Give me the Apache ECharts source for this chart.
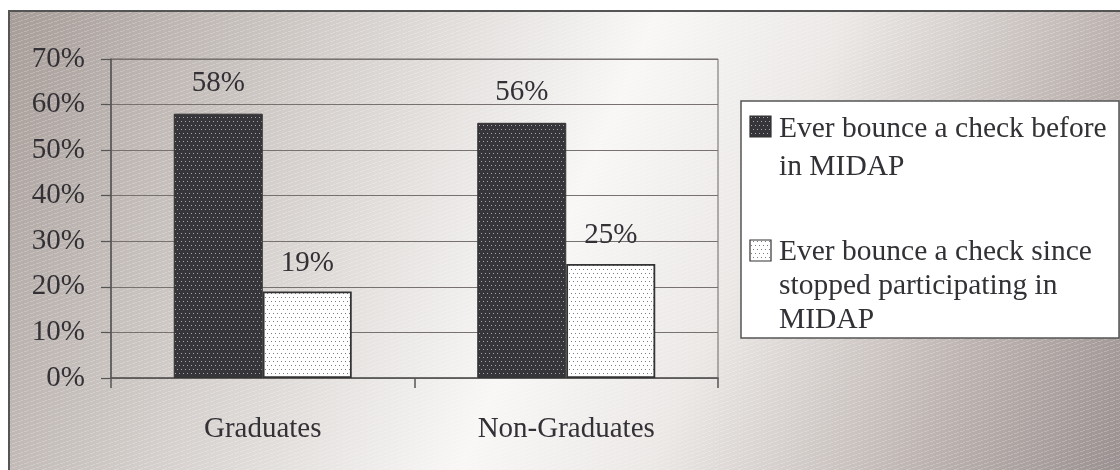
<!DOCTYPE html>
<html><head><meta charset="utf-8">
<script src="https://cdn.jsdelivr.net/npm/echarts@6/dist/echarts.min.js"></script>
<style>html,body{margin:0;padding:0;background:#fff;overflow:hidden}#c{width:1120px;height:470px}</style>
</head><body><div id="c"></div>
<script>
// ---- data ----
const categories = ['Graduates', 'Non-Graduates'];
const seriesNames = ['Ever bounce a check before in MIDAP', 'Ever bounce a check since stopped participating in MIDAP'];
const legendLines = [
  ['Ever bounce a check before', 'in MIDAP'],
  ['Ever bounce a check since', 'stopped participating in', 'MIDAP']
];
const beforeValues = [58, 56];
const sinceValues = [19, 25];
const yMin = 0, yMax = 70, yStep = 10;

// ---- patterns ----
function dotPattern(bg, dot) {
  const c = document.createElement('canvas'); c.width = 4; c.height = 8;
  const g = c.getContext('2d');
  g.fillStyle = bg; g.fillRect(0, 0, 4, 8);
  g.fillStyle = dot; g.fillRect(1, 1, 1, 1); g.fillRect(3, 5, 1, 1);
  return { image: c, repeat: 'repeat' };
}
function stripePattern() {
  const c = document.createElement('canvas'); c.width = 12; c.height = 4;
  const g = c.getContext('2d');
  g.fillStyle = 'rgba(255,255,255,0.22)';
  for (let x = 0; x < 12; x++) {
    if (x % 6 === 5) continue;
    const y = 3 - Math.floor(x / 3);
    g.fillRect(x, y, 1, 1);
  }
  return { image: c, repeat: 'repeat' };
}
const darkFill = dotPattern('#36353a', '#a9a7ac');
const lightFill = dotPattern('#ffffff', '#7d7b80');
const FONT = 'Liberation Serif';
const TXT = '#333136';
const FS = 29;

const chart = echarts.init(document.getElementById('c'), null, { renderer: 'canvas' });

const legendX = 741, legendY = 101, legendW = 378, legendH = 237;
const legendItemTops = [116, 240];
const legendLineHeights = [38, 34];
const legendTextShift = [3, 2];
const legendGraphics = [{
  type: 'rect', z: 100,
  shape: { x: legendX, y: legendY, width: legendW, height: legendH },
  style: { fill: '#ffffff', stroke: '#555', lineWidth: 1.5 }
}];
[darkFill, lightFill].forEach((fill, i) => {
  legendGraphics.push({
    type: 'rect', z: 101,
    shape: { x: 750, y: legendItemTops[i], width: 21, height: 21 },
    style: { fill: fill, stroke: '#333', lineWidth: 1.2 }
  });
  legendGraphics.push({
    type: 'text', z: 101,
    x: 779, y: legendItemTops[i] + 10 - legendLineHeights[i] / 2 + legendTextShift[i],
    style: {
      text: legendLines[i].join('\n'),
      font: '29.5px "' + FONT + '"', fill: TXT,
      lineHeight: legendLineHeights[i], verticalAlign: 'top', align: 'left'
    }
  });
});

const option = {
  animation: false,
  graphic: { elements: [
    {
      type: 'rect', z: -20, silent: true,
      shape: { x: 9, y: 11, width: 1140, height: 490 },
      style: {
        fill: { type: 'linear', x: 0, y: 0, x2: 1, y2: 1, colorStops: [
          { offset: 0, color: '#a69c98' },
          { offset: 0.25, color: '#d4cfcc' },
          { offset: 0.48, color: '#f8f7f6' },
          { offset: 0.62, color: '#ebe8e6' },
          { offset: 0.82, color: '#bdb4b1' },
          { offset: 1, color: '#93898a' }
        ] },
        stroke: '#555', lineWidth: 2
      }
    },
    {
      type: 'rect', z: -19, silent: true,
      shape: { x: 10, y: 12, width: 1140, height: 490 },
      style: { fill: stripePattern() }
    }
  ].concat(legendGraphics) },
  grid: {
    left: 111, top: 59, right: 402, bottom: 92,
    show: true, borderColor: '#6b6767', borderWidth: 1, backgroundColor: 'transparent'
  },
  xAxis: {
    type: 'category', data: categories,
    axisLine: { show: true, lineStyle: { color: '#555', width: 1.5 } },
    axisTick: { show: true, length: 10, alignWithLabel: false, lineStyle: { color: '#555', width: 1.5 } },
    axisLabel: { fontFamily: FONT, fontSize: FS, color: TXT, margin: 37 },
    splitLine: { show: false }
  },
  yAxis: {
    type: 'value', min: yMin, max: yMax, interval: yStep,
    axisLine: { show: true, lineStyle: { color: '#555', width: 1.5 } },
    axisTick: { show: true, length: 10, lineStyle: { color: '#555', width: 1.2 } },
    axisLabel: { fontFamily: FONT, fontSize: FS, color: TXT, margin: 26, formatter: '{value}%' },
    splitLine: { show: true, lineStyle: { color: '#77716f', width: 1.2 } }
  },
  series: [
    {
      name: seriesNames[0], type: 'bar', data: beforeValues,
      barWidth: 89, barGap: '0%',
      itemStyle: { color: darkFill, borderColor: '#333', borderWidth: 1 },
      label: { show: true, position: 'top', distance: 16, formatter: '{c}%', fontFamily: FONT, fontSize: FS, color: TXT }
    },
    {
      name: seriesNames[1], type: 'bar', data: sinceValues,
      barWidth: 89, barGap: '0%',
      itemStyle: { color: lightFill, borderColor: '#333', borderWidth: 1.8 },
      label: { show: true, position: 'top', distance: 14, formatter: '{c}%', fontFamily: FONT, fontSize: FS, color: TXT }
    }
  ]
};
chart.setOption(option);
</script></body></html>
